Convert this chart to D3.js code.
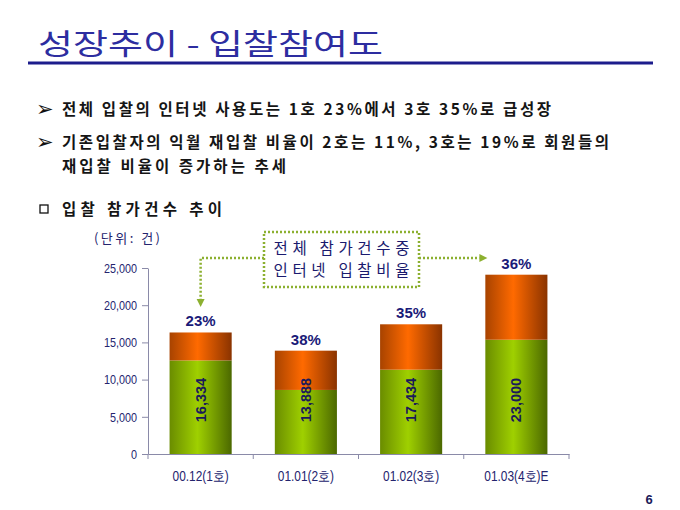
<!DOCTYPE html>
<html><head><meta charset="utf-8">
<script src="https://cdn.jsdelivr.net/npm/d3@7"></script>
<style>body{margin:0;background:#fff;} svg{display:block;}</style>
</head><body><svg id="c" width="680" height="510"></svg>
<script>
// ---- data ----
const categories = ["00.12(1호)", "01.01(2호)", "01.02(3호)", "01.03(4호)E"];
const otherBids = [12577, 8611, 11332, 15360];     // green (non-internet) portion
const internetBids = [3757, 5277, 6102, 8740];     // orange (internet) portion
const totalLabels = ["16,334", "13,888", "17,434", "23,000"];
const shareLabels = ["23%", "38%", "35%", "36%"];
const yTicks = [0, 5000, 10000, 15000, 20000, 25000];
const titleText = "성장추이 - 입찰참여도";
const bulletLines = [
  "전체 입찰의 인터넷 사용도는 1호 23%에서 3호 35%로 급성장",
  "기존입찰자의 익월 재입찰 비율이 2호는 11%, 3호는 19%로 회원들의",
  "재입찰 비율이 증가하는 추세"
];
const sectionText = "입찰 참가건수 추이";
const unitText = "(단위: 건)";
const calloutLines = ["전체 참가건수중", "인터넷 입찰비율"];
const pageNo = "6";

// ---- drawing ----
const svg = d3.select("#c");
const navy = "#24246e";
const kr = "'Noto Sans CJK KR','Noto Sans',sans-serif";
const narrow = "'Liberation Sans',Arial,sans-serif";

function condense(sel, f) {
  sel.each(function () {
    const w = this.getComputedTextLength();
    d3.select(this).attr("textLength", w * f).attr("lengthAdjust", "spacingAndGlyphs");
  });
}

const defs = svg.append("defs");
function grad(id, dark1, bright, dark2) {
  const g = defs.append("linearGradient").attr("id", id).attr("x1", "0%").attr("x2", "100%").attr("y1", "0%").attr("y2", "0%");
  g.append("stop").attr("offset", "0%").attr("stop-color", dark1);
  g.append("stop").attr("offset", "45%").attr("stop-color", bright);
  g.append("stop").attr("offset", "100%").attr("stop-color", dark2);
}
grad("gGreen", "#6a8c00", "#9fd000", "#4b6800");
grad("gOrange", "#a84300", "#ff6a00", "#8a3300");

// title
svg.append("text").attr("x", 38).attr("y", 55).text(titleText)
  .attr("font-family", kr).attr("font-size", 29).attr("fill", "#2d2da0")
  .attr("textLength", 345).attr("lengthAdjust", "spacingAndGlyphs");
svg.append("line").attr("x1", 28).attr("x2", 653).attr("y1", 63).attr("y2", 63)
  .attr("stroke", "#1c1c8c").attr("stroke-width", 3);

// bullets
const bulletY = [115, 148, 172];
const bulletW = [489, 547, 224];
bulletLines.forEach((t, i) => {
  if (i < 2) {
    svg.append("text").attr("x", 36).attr("y", bulletY[i] + 1).text("➢")
      .attr("font-family", "'DejaVu Sans',sans-serif").attr("font-size", 21).attr("fill", "#111");
  }
  svg.append("text").attr("x", 62).attr("y", bulletY[i]).text(t)
    .attr("font-family", kr).attr("font-size", 15.5).attr("font-weight", 700).attr("fill", "#151515")
    .attr("textLength", bulletW[i]).attr("lengthAdjust", "spacing");
});
svg.append("rect").attr("x", 40).attr("y", 205).attr("width", 8).attr("height", 8)
  .attr("fill", "#fff").attr("stroke", "#111").attr("stroke-width", 1.3);
svg.append("text").attr("x", 62).attr("y", 215).text(sectionText)
  .attr("font-family", kr).attr("font-size", 15.5).attr("font-weight", 700).attr("fill", "#151515")
  .attr("textLength", 160).attr("lengthAdjust", "spacing");

// scales
const x = d3.scaleBand().domain(categories).range([148, 569]).paddingInner(0.41).paddingOuter(0.205);
const y = d3.scaleLinear().domain([0, 25000]).range([454, 268]);

// unit
svg.append("text").attr("x", 94).attr("y", 243).text(unitText)
  .attr("font-family", kr).attr("font-size", 13).attr("fill", navy)
  .attr("textLength", 66).attr("lengthAdjust", "spacing");

// y axis
const yAxis = svg.append("g").attr("transform", "translate(148,0)")
  .call(d3.axisLeft(y).tickValues(yTicks).tickFormat(d3.format(",")).tickSize(6).tickSizeOuter(0));
yAxis.select(".domain").attr("stroke", "#8a8aa8");
yAxis.selectAll(".tick line").attr("stroke", "#8a8aa8");
yAxis.selectAll(".tick text").attr("font-family", narrow).attr("font-size", 13.5).attr("fill", navy).attr("x", -11)
  .call(condense, 0.8);

// x axis
const xAxis = svg.append("g").attr("transform", "translate(0,454)")
  .call(d3.axisBottom(x).tickSize(0).tickPadding(17));
xAxis.select(".domain").attr("stroke", "#8a8aa8");
xAxis.selectAll(".tick text").attr("font-family", narrow).attr("font-size", 14).attr("fill", navy)
  .call(condense, 0.85);
const bounds = d3.range(categories.length + 1).map(i => x.range()[0] + i * x.step());
xAxis.selectAll(".bound").data(bounds).enter().append("line")
  .attr("x1", d => d).attr("x2", d => d).attr("y1", 0).attr("y2", 5).attr("stroke", "#8a8aa8");

// bars
const bars = svg.append("g");
categories.forEach((c, i) => {
  const g0 = y(0), g1 = y(otherBids[i]), t = y(otherBids[i] + internetBids[i]);
  bars.append("rect").attr("x", x(c)).attr("width", x.bandwidth())
    .attr("y", g1).attr("height", g0 - g1).attr("fill", "url(#gGreen)");
  bars.append("rect").attr("x", x(c)).attr("width", x.bandwidth())
    .attr("y", t).attr("height", g1 - t).attr("fill", "url(#gOrange)");
  const cx = x(c) + x.bandwidth() / 2;
  bars.append("text").attr("x", cx).attr("y", t - 6).text(shareLabels[i])
    .attr("text-anchor", "middle").attr("font-family", "'Liberation Sans',Arial,sans-serif")
    .attr("font-weight", 700).attr("font-size", 15).attr("fill", "#1a1a78");
  bars.append("text").attr("transform", `translate(${cx + 5},${y(7250)}) rotate(-90)`)
    .text(totalLabels[i]).attr("text-anchor", "middle")
    .attr("font-family", "'Liberation Sans',Arial,sans-serif").attr("font-weight", 700)
    .attr("font-size", 14.5).attr("fill", "#1a1a5a");
});

// callout
const dotStyle = s => s.attr("stroke", "#8cb030").attr("stroke-width", 2.5).attr("stroke-dasharray", "2,2").attr("fill", "none");
svg.append("rect").attr("x", 264).attr("y", 232).attr("width", 155).attr("height", 55)
  .attr("fill", "#fff").call(dotStyle);
calloutLines.forEach((t, i) => {
  svg.append("text").attr("x", 341.5).attr("y", 254 + i * 22).text(t)
    .attr("text-anchor", "middle").attr("font-family", kr).attr("font-size", 15.5)
    .attr("fill", "#1a1a6e").attr("textLength", 136).attr("lengthAdjust", "spacing");
});
const c1 = x(categories[0]) + x.bandwidth() / 2;
const c4 = x(categories[3]) + x.bandwidth() / 2;
svg.append("path").attr("d", `M264,258 H${c1} V300`).call(dotStyle);
svg.append("path").attr("d", `M${c1 - 4},299 L${c1 + 4},299 L${c1},307 Z`).attr("fill", "#8cb030");
svg.append("path").attr("d", `M419,258 H${c4 - 37}`).call(dotStyle);
svg.append("path").attr("d", `M${c4 - 37},254 L${c4 - 37},262 L${c4 - 29},258 Z`).attr("fill", "#8cb030");

// page number
svg.append("text").attr("x", 649).attr("y", 504).text(pageNo).attr("text-anchor", "middle")
  .attr("font-family", "'Liberation Sans',Arial,sans-serif").attr("font-weight", 700)
  .attr("font-size", 13).attr("fill", "#1a1a5a");
</script></body></html>
